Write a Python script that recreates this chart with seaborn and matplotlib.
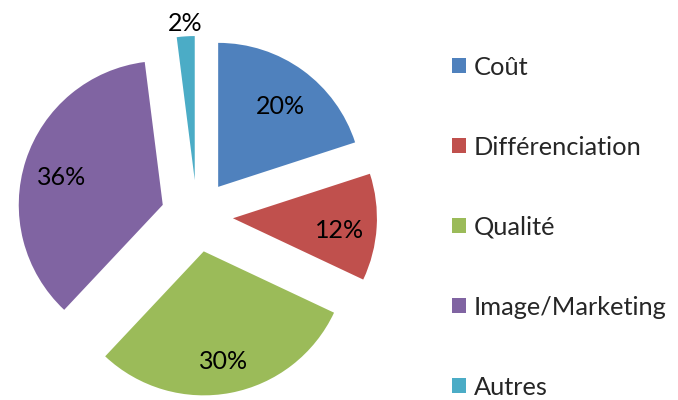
import matplotlib
matplotlib.use("Agg")
import matplotlib.pyplot as plt
import seaborn as sns
import numpy as np

# data
categories = ["Coût", "Différenciation", "Qualité", "Image/Marketing", "Autres"]
values = [20, 12, 30, 36, 2]
colors = ["#4F81BD", "#C0504D", "#9BBB59", "#8064A2", "#4BACC6"]

sns.set_style("white")
plt.rcParams["font.family"] = ["Lato", "DejaVu Sans"]

fig = plt.figure(figsize=(6.78, 4.0), dpi=100)

# pie axes: 1 data unit = 142 px, centre at (197, 216) px from top-left
R = 142.0
half = 180.0
ax = fig.add_axes([(197 - half) / 678, (400 - 216 - half) / 400, 2 * half / 678, 2 * half / 400])
ax.set_xlim(-half / R, half / R)
ax.set_ylim(-half / R, half / R)
ax.axis("off")

explode = [0.25] * len(values)
wedges, texts, autotexts = ax.pie(
    values, colors=colors, startangle=90, counterclock=False,
    explode=explode, radius=1, autopct="%d%%", pctdistance=0.74,
    textprops=dict(fontsize=18, color="black"),
    wedgeprops=dict(linewidth=0),
)

# small slice label placed outside, as Excel does
for w, t, v in zip(wedges, autotexts, values):
    if v < 5:
        ang = np.deg2rad((w.theta1 + w.theta2) / 2)
        t.set_position(((0.25 + 1.09) * np.cos(ang), (0.25 + 1.09) * np.sin(ang)))
    else:
        x, y = t.get_position()
        t.set_position((x, y - 0.04))

fig.legend(wedges, categories, loc="center left", bbox_to_anchor=(452 / 678, 0.432),
           frameon=False, fontsize=18.3, handlelength=0.55, handleheight=0.55,
           handletextpad=0.3, labelspacing=2.24, borderpad=0, borderaxespad=0)

plt.savefig("out.png", dpi=100)
plt.close()
